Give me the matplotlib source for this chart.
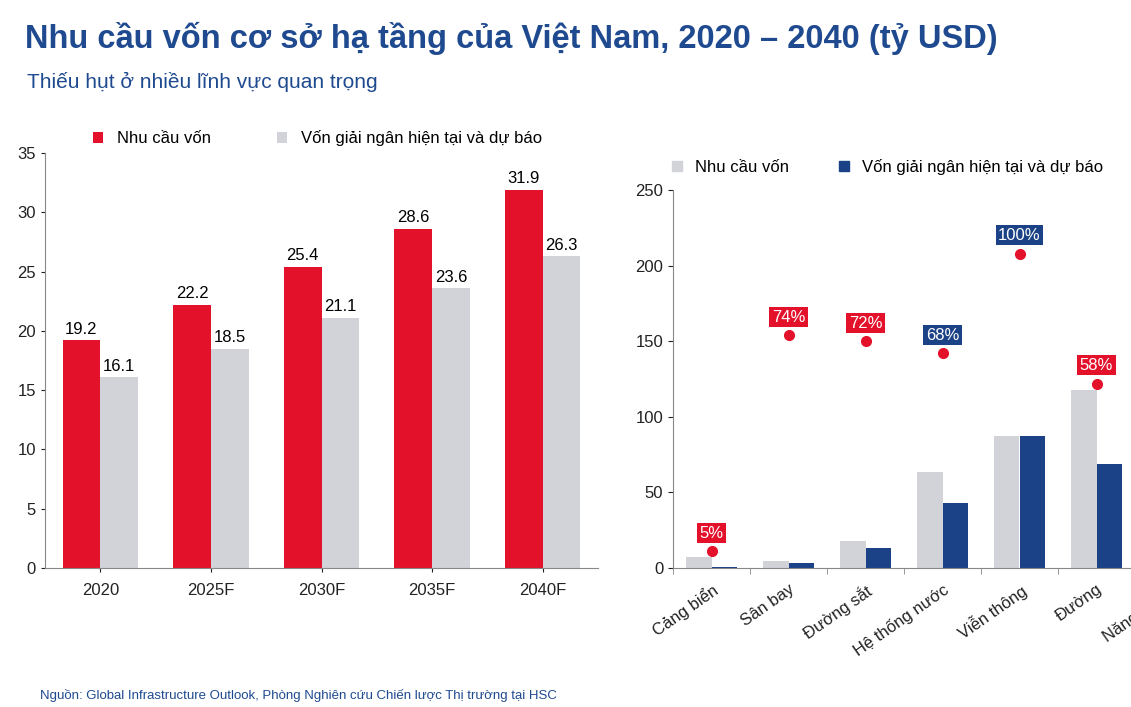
import matplotlib
matplotlib.use("Agg")
import matplotlib.pyplot as plt
import numpy as np
from matplotlib.lines import Line2D
from matplotlib.patches import Patch

plt.rcParams["font.family"] = ["Liberation Sans", "DejaVu Sans"]

# ---------------- data ----------------
years = ["2020", "2025F", "2030F", "2035F", "2040F"]
demand = [19.2, 22.2, 25.4, 28.6, 31.9]
disbursed = [16.1, 18.5, 21.1, 23.6, 26.3]

sectors = ["Cảng biển", "Sân bay", "Đường sắt", "Hệ thống nước", "Viễn thông", "Đường", "Năng lượng"]
sec_demand = [7.5, 4.5, 18, 63.5, 87, 118, np.nan]
sec_disbursed = [0.5, 3, 13, 43, 87, 69, np.nan]
dot_vals = [11, 154, 150, 142, 208, 122, np.nan]
dot_labels = ["5%", "74%", "72%", "68%", "100%", "58%", ""]
label_blue = [False, False, False, True, True, False, False]

RED = "#E4112B"
GREY = "#D1D3D8"
NAVY = "#1B4286"
TITLE = "#1F4A8F"

W, H = 1131, 707
fig = plt.figure(figsize=(W / 100, H / 100), dpi=100)
fig.patch.set_facecolor("white")

fig.text(25 / W, 1 - 38 / H, "Nhu cầu vốn cơ sở hạ tầng của Việt Nam, 2020 – 2040 (tỷ USD)",
         color=TITLE, fontsize=23.5, fontweight="bold", va="center")
fig.text(27 / W, 1 - 82 / H, "Thiếu hụt ở nhiều lĩnh vực quan trọng",
         color=TITLE, fontsize=15, va="center")
fig.text(40 / W, 1 - 695 / H,
         "Nguồn: Global Infrastructure Outlook, Phòng Nghiên cứu Chiến lược Thị trường tại HSC",
         color=TITLE, fontsize=9.5, va="center")

# ---------------- left chart ----------------
ax1 = fig.add_axes([45 / W, 1 - 568 / H, 553 / W, 415 / H])
x = np.arange(len(years))
bw = 0.34
b1 = ax1.bar(x - bw / 2, demand, bw, color=RED, label="Nhu cầu vốn")
b2 = ax1.bar(x + bw / 2, disbursed, bw, color=GREY, label="Vốn giải ngân hiện tại và dự báo")
for bars, vals in ((b1, demand), (b2, disbursed)):
    for r, v in zip(bars, vals):
        ax1.text(r.get_x() + r.get_width() / 2, v + 0.3, f"{v:.1f}",
                 ha="center", va="bottom", fontsize=12)
ax1.set_ylim(0, 35)
ax1.set_yticks(range(0, 36, 5))
ax1.set_xlim(-0.5, len(years) - 0.5)
ax1.set_xticks(x)
ax1.set_xticklabels(years)
for s in ("top", "right"):
    ax1.spines[s].set_visible(False)
ax1.spines["left"].set_color("#888888")
ax1.spines["bottom"].set_color("#888888")
ax1.tick_params(labelsize=12, colors="#222222", length=3)
ax1.tick_params(axis="x", pad=8)
ax1.legend(loc="lower left", bbox_to_anchor=(0.06, 0.98), ncol=2, frameon=False,
           fontsize=12, handlelength=0.6, handleheight=0.6, columnspacing=4)

# ---------------- right chart ----------------
ax2 = fig.add_axes([673 / W, 1 - 568 / H, 539 / W, 378 / H])
x2 = np.arange(len(sectors))
bw2 = 0.33
ax2.bar(x2 - bw2 / 2, sec_demand, bw2, color=GREY)
ax2.bar(x2 + bw2 / 2, sec_disbursed, bw2, color=NAVY)
ax2.plot(x2, dot_vals, "o", color=RED, markersize=7, linestyle="none")
for xi, v, lab, blue in zip(x2, dot_vals, dot_labels, label_blue):
    if not lab:
        continue
    ax2.text(xi, v + 7, lab, ha="center", va="bottom", color="white", fontsize=12,
             bbox=dict(boxstyle="square,pad=0.15", fc=NAVY if blue else RED, ec="none"))
ax2.set_ylim(0, 250)
ax2.set_yticks(range(0, 251, 50))
ax2.set_xlim(-0.5, len(sectors) - 0.5)
ax2.set_xticks(x2)
ax2.set_xticklabels(sectors, rotation=35, ha="right", rotation_mode="anchor")
ax2.set_xticks(np.arange(-0.5, len(sectors), 1), minor=True)
ax2.tick_params(axis="x", which="major", length=0, pad=10)
ax2.tick_params(axis="x", which="minor", length=4, color="#888888")
for s in ("top", "right"):
    ax2.spines[s].set_visible(False)
ax2.spines["left"].set_color("#888888")
ax2.spines["bottom"].set_color("#888888")
ax2.tick_params(labelsize=12, colors="#222222")
handles = [Patch(color=GREY, label="Nhu cầu vốn"),
           Patch(color=NAVY, label="Vốn giải ngân hiện tại và dự báo"),
           Line2D([], [], marker="o", color=RED, linestyle="none", markersize=7, label="")]
ax2.legend(handles=handles, loc="lower left", bbox_to_anchor=(-0.03, 1.0), ncol=3,
           frameon=False, fontsize=12, handlelength=0.6, handleheight=0.6, columnspacing=3)

fig.savefig("out.png", dpi=100)
